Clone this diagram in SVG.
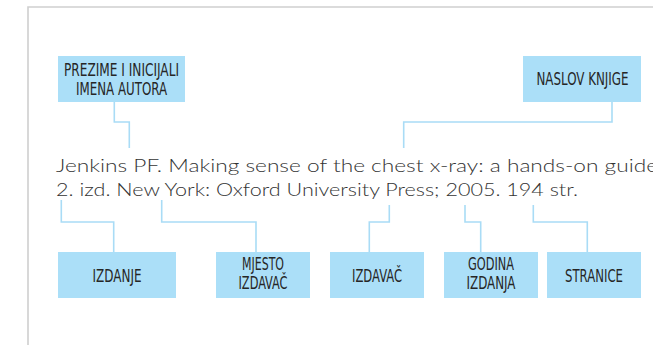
<svg xmlns="http://www.w3.org/2000/svg" width="653" height="345" viewBox="0 0 653 345">
<style>
.box{fill:#abdff8}
.lbl{font-family:"DejaVu Sans Condensed","DejaVu Sans",sans-serif;font-size:17px;fill:#262626;text-anchor:middle}
.con{fill:none;stroke:#a9dcf6;stroke-width:1.6}
.ref{font-family:"Lato","Liberation Sans",sans-serif;font-weight:300;font-size:18.5px;fill:#333}
</style>
<rect x="0" y="0" width="653" height="345" fill="#fff"/>
<path d="M28 345V7H653" fill="none" stroke="#cfcfcf" stroke-width="1.6"/>
<g id="connectors">
<path class="con" d="M114.3 102V122H129.3V148"/>
<path class="con" d="M612 102V122H403.7V148"/>
<path class="con" d="M61.3 200V222H113.7V252"/>
<path class="con" d="M161.7 200V222H256V252"/>
<path class="con" d="M389.3 205V222H369.3V252"/>
<path class="con" d="M465 205V222H480.7V252"/>
<path class="con" d="M533.3 205V222H587.3V252"/>
</g>
<g id="reference">
<text class="ref" x="56" y="171.5" textLength="602" lengthAdjust="spacingAndGlyphs">Jenkins PF. Making sense of the chest x-ray: a hands-on guide</text>
<text class="ref" x="56" y="195.5" textLength="522" lengthAdjust="spacingAndGlyphs">2. izd. New York: Oxford University Press; 2005. 194 str.</text>
</g>
<g id="prezime">
<rect class="box" x="58" y="56" width="127" height="46"/>
<text class="lbl" transform="translate(121.5 76) scale(0.75 1)" x="0" y="0" textLength="153.3" lengthAdjust="spacingAndGlyphs">PREZIME I INICIJALI</text>
<text class="lbl" transform="translate(121.5 95) scale(0.75 1)" x="0" y="0" textLength="121.3" lengthAdjust="spacingAndGlyphs">IMENA AUTORA</text>
</g>
<g id="naslov">
<rect class="box" x="523" y="56" width="118" height="46"/>
<text class="lbl" transform="translate(582.5 85) scale(0.75 1)" x="0" y="0" textLength="122.7" lengthAdjust="spacingAndGlyphs">NASLOV KNJIGE</text>
</g>
<g id="izdanje">
<rect class="box" x="58" y="252" width="118" height="46"/>
<text class="lbl" transform="translate(117 281.5) scale(0.75 1)" x="0" y="0" textLength="65.3" lengthAdjust="spacingAndGlyphs">IZDANJE</text>
</g>
<g id="mjesto">
<rect class="box" x="216" y="252" width="94" height="46"/>
<text class="lbl" transform="translate(263 270) scale(0.75 1)" x="0" y="0" textLength="56" lengthAdjust="spacingAndGlyphs">MJESTO</text>
<text class="lbl" transform="translate(263 289) scale(0.75 1)" x="0" y="0" textLength="65.3" lengthAdjust="spacingAndGlyphs">IZDAVAČ</text>
</g>
<g id="izdavac">
<rect class="box" x="330" y="252" width="94" height="46"/>
<text class="lbl" transform="translate(377 281.5) scale(0.75 1)" x="0" y="0" textLength="66.7" lengthAdjust="spacingAndGlyphs">IZDAVAČ</text>
</g>
<g id="godina">
<rect class="box" x="444" y="252" width="94" height="46"/>
<text class="lbl" transform="translate(491 270) scale(0.75 1)" x="0" y="0" textLength="61.3" lengthAdjust="spacingAndGlyphs">GODINA</text>
<text class="lbl" transform="translate(491 289) scale(0.75 1)" x="0" y="0" textLength="65.3" lengthAdjust="spacingAndGlyphs">IZDANJA</text>
</g>
<g id="stranice">
<rect class="box" x="547" y="252" width="94" height="46"/>
<text class="lbl" transform="translate(594 281.5) scale(0.75 1)" x="0" y="0" textLength="77.3" lengthAdjust="spacingAndGlyphs">STRANICE</text>
</g>
</svg>
